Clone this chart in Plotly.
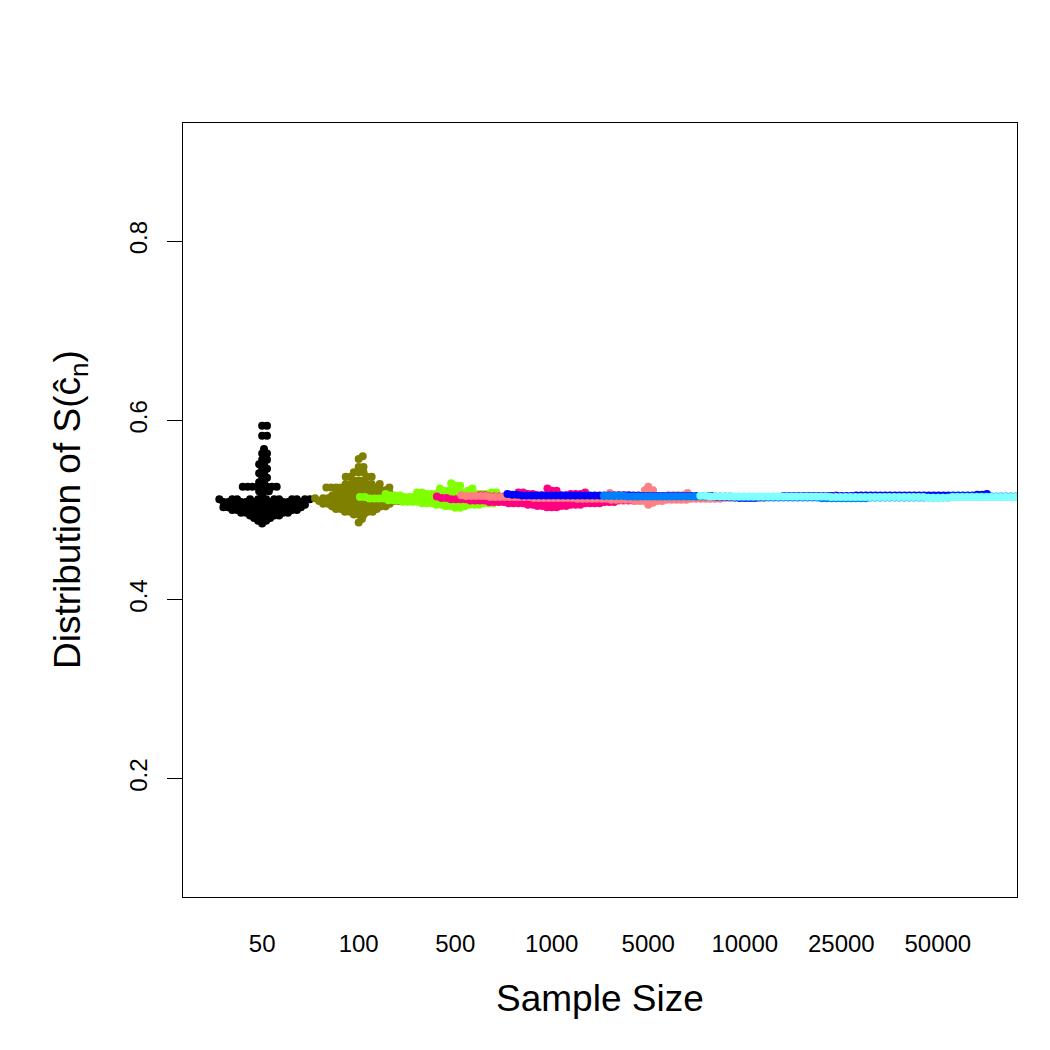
import math
import plotly.graph_objects as go

# ---- data (each group: value levels and how many runs hit each level) ----
sample_sizes = ["50", "100", "500", "1000", "5000", "10000", "25000", "50000"]
colors = ["#000000", "#808000", "#80FF00", "#FF0080", "#FF8080", "#0000FF", "#0080FF", "#80FFFF"]

vals_50 = [0.5940, 0.5830, 0.5680, 0.5630, 0.5560, 0.5510, 0.5460, 0.5410, 0.5360, 0.5310, 0.5260,
           0.5210, 0.5160, 0.5120, 0.5090, 0.5060, 0.5030, 0.5000, 0.4970, 0.4940, 0.4910, 0.4880, 0.4850]
cnt_50 = [2, 2, 1, 2, 2, 2, 2, 2, 2, 2, 8, 3, 1, 12, 10, 10, 10, 9, 7, 5, 3, 2, 1]

vals_100 = [0.5600, 0.5570, 0.5480, 0.5420, 0.5370, 0.5330, 0.5290, 0.5250, 0.5220, 0.5190, 0.5160, 0.5130,
            0.5100, 0.5070, 0.5040, 0.5010, 0.4980, 0.4950, 0.4900, 0.4860]
cnt_100 = [1, 1, 2, 3, 4, 3, 5, 9, 6, 7, 7, 11, 10, 9, 7, 6, 4, 3, 1, 1]

vals_500 = [0.5300, 0.5270, 0.5240, 0.5215, 0.5195, 0.5178, 0.5161, 0.5144, 0.5127, 0.5110, 0.5093,
            0.5076, 0.5059, 0.5042, 0.5025]
cnt_500 = [1, 2, 2, 4, 6, 9, 11, 13, 13, 12, 10, 7, 5, 3, 2]

vals_1000 = [0.5240, 0.5215, 0.5195, 0.5180, 0.5165, 0.5150, 0.5135, 0.5120, 0.5105, 0.5090, 0.5075,
             0.5060, 0.5045, 0.5030]
cnt_1000 = [1, 2, 3, 5, 9, 12, 13, 13, 12, 10, 8, 5, 4, 3]

vals_5000 = [0.5260, 0.5220, 0.5190, 0.5165, 0.5155, 0.5145, 0.5135, 0.5125, 0.5115, 0.5100, 0.5080, 0.5060]
cnt_5000 = [1, 2, 3, 10, 16, 18, 18, 15, 10, 5, 1, 1]

vals_10000 = [0.5180, 0.5170, 0.5162, 0.5155, 0.5145, 0.5135]
cnt_10000 = [2, 4, 50, 30, 10, 4]

vals_25000 = [0.5160, 0.5150, 0.5140, 0.5130]
cnt_25000 = [10, 45, 35, 10]

vals_50000 = [0.5160, 0.5152, 0.5145, 0.5138]
cnt_50000 = [5, 50, 40, 5]

groups = [(vals_50, cnt_50), (vals_100, cnt_100), (vals_500, cnt_500), (vals_1000, cnt_1000),
          (vals_5000, cnt_5000), (vals_10000, cnt_10000), (vals_25000, cnt_25000), (vals_50000, cnt_50000)]

y_ticks = [0.2, 0.4, 0.6, 0.8]

# ---- layout geometry ----
W, H = 1050, 1050
ML, MR, MT, MB = 183, 33, 123, 153
PW, PH = W - ML - MR, H - MT - MB
XR = [0.18, 8.82]
YR = [0.068, 0.932]
px_x = PW / (XR[1] - XR[0])
px_y = PH / (YR[1] - YR[0])
D = 4.85  # swarm spacing (px)


def swarm_offsets(values):
    """beeswarm 'swarm' layout: place points in ascending order as close to centre as possible."""
    order = sorted(range(len(values)), key=lambda i: values[i])
    ys = [v * px_y for v in values]
    xs = [0.0] * len(values)
    placed = []
    for i in order:
        y = ys[i]
        near = [(px, py) for px, py in placed if abs(py - y) < D]
        cands = [0.0]
        for px, py in near:
            dx = math.sqrt(D * D - (py - y) ** 2)
            cands += [px + dx, px - dx]
        best = 0.0
        for c in sorted(cands, key=lambda c: (abs(c), -c)):
            if all((c - px) ** 2 + (y - py) ** 2 >= D * D - 1e-6 for px, py in near):
                best = c
                break
        xs[i] = best
        placed.append((best, y))
    return [x / px_x for x in xs]


fig = go.Figure()
for gi, ((vals, cnts), col) in enumerate(zip(groups, colors)):
    values = []
    for v, c in zip(vals, cnts):
        values += [v] * c
    offs = swarm_offsets(values)
    fig.add_trace(go.Scatter(
        x=[gi + 1 + o for o in offs], y=values, mode="markers",
        marker=dict(color=col, size=8, line=dict(width=0)),
        showlegend=False, hoverinfo="skip", cliponaxis=True))

font_family = "Liberation Sans, Arial, Helvetica, sans-serif"
fig.update_layout(
    width=W, height=H, margin=dict(l=ML, r=MR, t=MT, b=MB),
    paper_bgcolor="white", plot_bgcolor="white",
    font=dict(family=font_family, color="black"),
    xaxis=dict(range=XR, tickmode="array", tickvals=list(range(1, 9)), ticktext=sample_sizes,
               showgrid=False, zeroline=False, showline=True, mirror=True, linecolor="black",
               linewidth=1, ticks="outside", ticklen=25, tickcolor="rgba(0,0,0,0)",
               tickfont=dict(size=24, family=font_family)),
    yaxis=dict(range=YR, tickmode="array", tickvals=y_ticks, ticktext=[str(t) for t in y_ticks],
               showgrid=False, zeroline=False, showline=True, mirror=True, linecolor="black",
               linewidth=1, ticks="outside", ticklen=15, tickcolor="black", tickwidth=1,
               tickangle=-90, ticklabelstandoff=10, tickfont=dict(size=24, family=font_family)),
    annotations=[
        dict(text="Sample Size", xref="paper", yref="paper", x=0.5, y=(897 - 998) / PH,
             xanchor="center", yanchor="middle", showarrow=False, font=dict(size=37, family=font_family)),
        dict(text="Distribution of S(ĉ<sub>n</sub>)", xref="paper", yref="paper", x=(70 - ML) / PW, y=0.5,
             xanchor="center", yanchor="middle", textangle=-90, showarrow=False,
             font=dict(size=37, family=font_family)),
    ],
)

fig.write_html("out.html")
